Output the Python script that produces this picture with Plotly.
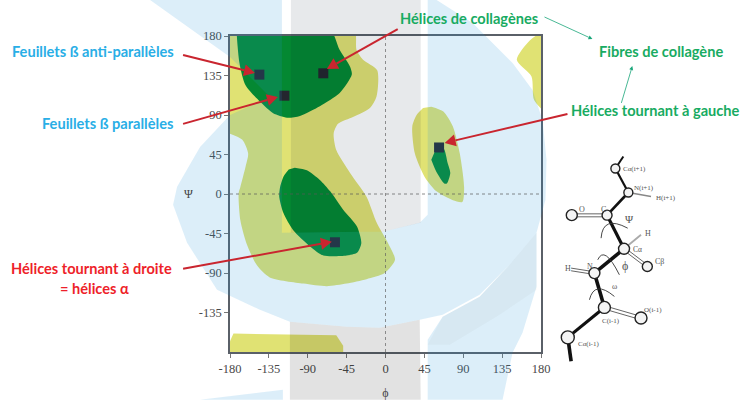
import math
import plotly.graph_objects as go

# ---------- data (phi, psi in degrees) ----------
allowed_phi = [-190,-37,-33.5,-26,-9.6,-10.4,-18,-37,-55,-60,-57,-41,-22,-10,3,11,-1,-22,-45,-68,-95,-134,-149,-161,-168,-170,-168,-162,-159,-166,-190]
allowed_psi = [190,190,164,153,141,111,98,88,80,69,50,24,-3,-33,-56,-75,-90,-97,-102,-105,-102,-95,-81,-56,-30,1,8,31,46,62,72]
beta_phi = [-172,-171,-66,-53,-41,-39,-53,-76,-99,-114,-130,-145,-162,-169,-172]
beta_psi = [190,190,190,164,145,136,115,100,89,87,92,105,124,149,190]
alpha_phi = [-105,-91,-76,-64,-49,-33,-28,-33,-45,-72,-87,-107,-118,-123,-122,-118,-112]
alpha_psi = [30,27,16,3,-18,-37,-56,-67,-70,-70,-60,-41,-22,-3,8,20,28]
left_allowed_phi = [53,67,78,86,91,89,78,59,45,34,31,36,43.5]
left_allowed_psi = [99.5,94,77,46,8,-9,-7,3,20,46,77,90,98]
left_core_phi = [57,67,72,75,71,68,59,53]
left_core_psi = [48,52,35,24,12,12,25,39]
corner_phi = [190,167,152,169,172,190]
corner_psi = [190,175,153,134,107,88]
bottom_phi = [-190,-180,-176,-57,-49,-49,-190]
bottom_psi = [-190,-168,-159,-161,-173,-190,-190]
marker_phi = [-146,-117,-72,62,-58.5]
marker_psi = [136,112,137.5,53,-55]
tick_vals = [-180,-135,-90,-45,0,45,90,135,180]
tick_text = ["-180","-135","-90","-45","0","45","90","135","180"]
y_tick_vals = [-135,-90,-45,0,45,90,135,180]
y_tick_text = ["-135","-90","-45","0","45","90","135","180"]

# ---------- page geometry ----------
W, H = 745, 400
L, R, T, B = 230, 541.5, 36, 352.3
def px(x): return (x - L) / (R - L)
def py(y): return (B - y) / (B - T)
def path(pts, close=True):
    s = "M" + " L".join(f"{px(a):.4f},{py(b):.4f}" for a, b in pts)
    return s + (" Z" if close else "")

# ---------- watermark outlines ----------
BLUE = "rgba(40,150,220,0.16)"
GRAY = "rgba(0,0,0,0.115)"
GRAY_TOP = "rgba(0,20,40,0.095)"
GRAY2 = "rgba(90,90,70,0.04)"
blue_main = [(150,0),(282,0),(282,233),(360,232),(383,232),(420,223),(428,215),(428,0),(437,0),(473,23),(513,63),(533,90),(543,120),(547,160),(546,200),(537,233),(510,265),(480,295),(443,315),(420,320),(380,328),(347,327),(290,322),(260,310),(217,290),(187,243),(173,205),(177,187),(200,147),(230,115),(270,97),(230,57)]
blue_low = [(428,340),(443,317),(480,297),(510,265),(537,233),(537,287),(523,333),(513,353),(503,400),(428,400)]
blue_small = [(200,400),(283,390),(283,400)]
gray_top = [(291,0),(421,0),(421,223),(383,232),(360,232),(291,233)]
gray_bot = [(290,322),(347,327),(380,328),(420,320),(421,400),(290,400)]
gray_wedge = [(428,345),(443,317),(480,297),(510,265),(537,233),(537,290),(500,315),(450,345)]

fig = go.Figure()
def region(x, y, color):
    fig.add_trace(go.Scatter(x=x, y=y, mode="lines", fill="toself", fillcolor=color,
                             line=dict(width=0, shape="spline", smoothing=0.7, color=color),
                             hoverinfo="skip", showlegend=False))
YEL, GRN = "rgb(224,226,115)", "rgb(4,136,50)"
for xs, ys in [(allowed_phi, allowed_psi), (left_allowed_phi, left_allowed_psi), (corner_phi, corner_psi)]:
    region(xs, ys, YEL)
fig.add_trace(go.Scatter(x=bottom_phi, y=bottom_psi, mode="lines", fill="toself", fillcolor=YEL,
                         line=dict(width=0), hoverinfo="skip", showlegend=False))
for xs, ys in [(beta_phi, beta_psi), (alpha_phi, alpha_psi), (left_core_phi, left_core_psi)]:
    region(xs, ys, GRN)
fig.add_trace(go.Scatter(x=marker_phi, y=marker_psi, mode="markers",
                         marker=dict(symbol="square", size=10, color="#24262e"),
                         hoverinfo="skip", showlegend=False))

shapes = []
for pts, col in [(gray_top, GRAY_TOP), (gray_bot, GRAY), (blue_main, BLUE), (blue_low, BLUE), (blue_small, BLUE), (gray_wedge, GRAY2)]:
    shapes.append(dict(type="path", xref="paper", yref="paper", path=path(pts), fillcolor=col, line=dict(width=0), layer="above"))
shapes.append(dict(type="line", xref="x", yref="y", x0=0, x1=0, y0=-180, y1=180, line=dict(color="rgba(90,90,90,0.65)", width=1, dash="dot"), layer="above"))
shapes.append(dict(type="line", xref="x", yref="y", x0=-180, x1=180, y0=0, y1=0, line=dict(color="rgba(90,90,90,0.7)", width=1, dash="dot"), layer="above"))

# ---------- arrows drawn as shapes: (tail x, tail y, head x, head y) ----------
def arrow(x0, y0, x1, y1, col, w, hl, hw):
    d = math.hypot(x1-x0, y1-y0); ux, uy = (x1-x0)/d, (y1-y0)/d
    bx, by = x1-ux*hl, y1-uy*hl
    shapes.append(dict(type="path", xref="paper", yref="paper", path=path([(x0,y0),(bx,by)], False), line=dict(color=col, width=w), layer="above"))
    shapes.append(dict(type="path", xref="paper", yref="paper",
                       path=path([(x1,y1),(bx-uy*hw,by+ux*hw),(bx+uy*hw,by-ux*hw)]), fillcolor=col, line=dict(width=0), layer="above"))
for a in [(183,55,255,73),(183,124,278,97),(398,29,327,69),(183,269,332,242),(568,114,445,143)]:
    arrow(*a, "#c9252f", 2, 11, 6)
for a in [(545,17,593,39),(622,103,633,66)]:
    arrow(*a, "#1aa67a", 0.8, 4, 2)

# ---------- molecule sketch (page pixels) ----------
def z(a, b): return (550 + a / 3, 140 + b / 3)
def bond(a, b, w, col="#111"):
    shapes.append(dict(type="path", xref="paper", yref="paper", path=path([z(*a), z(*b)], False), line=dict(color=col, width=w), layer="above"))
def curve(a, c, b):
    A, C, Bb = z(*a), z(*c), z(*b)
    shapes.append(dict(type="path", xref="paper", yref="paper",
                       path=f"M{px(A[0]):.4f},{py(A[1]):.4f} Q{px(C[0]):.4f},{py(C[1]):.4f} {px(Bb[0]):.4f},{py(Bb[1]):.4f}",
                       line=dict(color="#333", width=0.9), layer="above"))
for a, b, w in [((222,50),(198,86),2),((198,86),(237,158),2.2),((237,158),(173,226),2.6),((173,226),(224,327),3.2),
                ((224,327),(135,400),3.6),((135,400),(165,503),3.6),((165,503),(55,593),3.2),((55,593),(65,665),3.6)]:
    bond(a, b, w)
for a, b in [((173,222),(67,222)),((173,231),(67,231)),((224,322),(294,375)),((224,332),(294,385)),
             ((165,498),(275,530)),((165,508),(275,540)),((135,396),(65,385)),((135,404),(65,393))]:
    bond(a, b, 0.9, "#555")
bond((237,158),(305,170),1.5,"#888")
bond((224,327),(275,285),1.8,"#aaa")
curve((155,295),(160,225),(235,265))
curve((145,360),(165,315),(210,405))
curve((120,480),(135,420),(195,470))
for a, r in [((198,86),4.5),((237,158),4.5),((173,226),5),((67,226),5.5),((224,327),5.5),((294,380),5),((135,400),5.5),((165,503),6),((275,535),6),((55,593),6.5)]:
    c = z(*a)
    shapes.append(dict(type="circle", xref="paper", yref="paper", x0=px(c[0]-r), x1=px(c[0]+r), y0=py(c[1]+r), y1=py(c[1]-r),
                       fillcolor="#f4f4f4", line=dict(color="#222", width=1.4), layer="above"))

annotations = []
def label(x, y, text, color, anchor="left", size=14.6):
    annotations.append(dict(xref="paper", yref="paper", x=px(x), y=py(y), text=f"<b>{text}</b>", showarrow=False, xanchor=anchor, yanchor="middle",
                            font=dict(family="Lato", size=size, color=color)))
CY, RD, GN = "#29aee6", "#ee1f2a", "#18ab62"
label(176, 52, "Feuillets ß anti-parallèles", CY, "right")
label(175, 124, "Feuillets ß parallèles", CY, "right")
label(174, 269, "Hélices tournant à droite", RD, "right")
label(94, 289, "= hélices α", RD, "center")
label(540, 18, "Hélices de collagènes", GN, "right")
label(662, 52, "Fibres de collagène", GN, "center")
label(743, 111, "Hélices tournant à gauche", GN, "right")

def mol(a, b, text, size=7.5, anchor="left"):
    c = z(a, b)
    annotations.append(dict(xref="paper", yref="paper", x=px(c[0]), y=py(c[1]), text=text, showarrow=False, xanchor=anchor, yanchor="middle",
                            font=dict(family="Liberation Serif", size=size, color="#555")))
for a, b, t, s in [(215,86,"Cα(i+1)",7),(248,143,"N(i+1)",7),(313,173,"H(i+1)",7),(82,210,"O",8),(150,208,"C",8),
                   (221,238,"Ψ",11),(280,280,"H",8),(245,328,"Cα",7.5),(312,365,"Cβ",8),(213,378,"ϕ",12),(40,386,"H",8),(108,380,"N",8),
                   (183,440,"ω",8),(153,543,"C(i-1)",7),(278,510,"O(i-1)",7),(80,612,"Cα(i-1)",7)]:
    mol(a, b, t, s)
# upright psi axis label
annotations.append(dict(xref="paper", yref="paper", x=px(188), y=py(194), text="Ψ", showarrow=False, xanchor="center", yanchor="middle",
                        font=dict(family="Liberation Serif", size=12, color="#444")))

fig.update_layout(
    width=W, height=H, margin=dict(l=L, r=W-R, t=T, b=H-B, autoexpand=False), autosize=False,
    paper_bgcolor="white", plot_bgcolor="rgba(0,0,0,0)", showlegend=False,
    shapes=shapes, annotations=annotations, hovermode=False,
    font=dict(family="Liberation Serif", color="#4a4a4a", size=12.5),
    xaxis=dict(range=[-180,180], tickvals=tick_vals, ticktext=tick_text, ticks="outside", ticklen=4, tickwidth=1, tickcolor="#777", showgrid=False, zeroline=False,
               showline=True, linecolor="#5a6068", linewidth=1.5, mirror=True, automargin=False,
               title=dict(text="ϕ", standoff=14, font=dict(family="Liberation Serif", size=12, color="#444"))),
    yaxis=dict(range=[-180,180], tickvals=y_tick_vals, ticktext=y_tick_text, ticks="outside", ticklen=4, tickwidth=1, tickcolor="#777", showgrid=False, zeroline=False,
               showline=True, linecolor="#5a6068", linewidth=1.5, mirror=True, automargin=False),
)
fig.write_html("out.html", config=dict(displayModeBar=False), post_script="document.body.style.margin='0';")
